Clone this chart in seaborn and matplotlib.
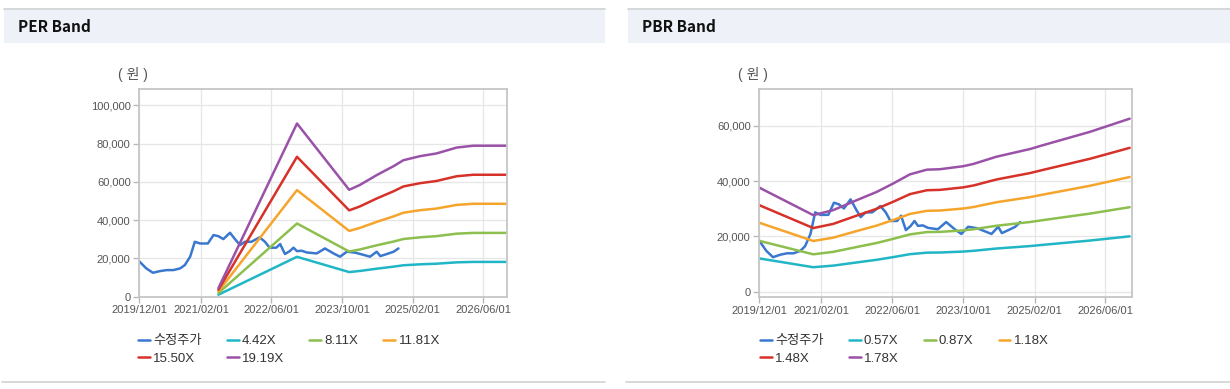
import pandas as pd
import numpy as np
import seaborn as sns
import matplotlib.pyplot as plt
import matplotlib.dates as mdates
from matplotlib.patches import Rectangle
from matplotlib.lines import Line2D
from matplotlib.ticker import FuncFormatter

# adjusted share price (수정주가), shared by both charts
price_dates = ['2019-12-01', '2020-01-20', '2020-03-06', '2020-04-25', '2020-06-10', '2020-07-25',
               '2020-09-10', '2020-10-12', '2020-11-18', '2020-12-20', '2021-01-25', '2021-03-20',
               '2021-04-28', '2021-06-01', '2021-07-05', '2021-08-20', '2021-09-25', '2021-10-28',
               '2021-12-01', '2022-01-15', '2022-03-12', '2022-04-18', '2022-05-20', '2022-07-05',
               '2022-08-01', '2022-09-03', '2022-10-06', '2022-11-01', '2022-11-25', '2022-12-28',
               '2023-02-01', '2023-04-10', '2023-06-06', '2023-08-04', '2023-09-18', '2023-11-04',
               '2024-01-01', '2024-02-15', '2024-04-12', '2024-05-28', '2024-06-22', '2024-08-06',
               '2024-09-22', '2024-10-25']
price = [18600, 14800, 12500, 13400, 13900, 13900,
         14800, 16500, 20900, 28700, 27800, 27800,
         32200, 31600, 30100, 33400, 29900, 27000,
         28700, 28700, 31000, 28700, 25600, 25600,
         27500, 22300, 23800, 25600, 23800, 24000,
         23100, 22600, 25200, 22600, 20900, 23500,
         23000, 22100, 20900, 23500, 21200, 22300,
         23500, 25200]

# PER band
per_dates = ['2021-06-01', '2022-11-25', '2023-11-20', '2024-02-01', '2024-05-28', '2024-09-22',
             '2024-11-28', '2025-03-22', '2025-07-15', '2025-12-01', '2026-03-25', '2026-11-15']
per_labels = ['4.42X', '8.11X', '11.81X', '15.50X', '19.19X']
per_442 = [1040, 20840, 12860, 13440, 14630, 15710, 16420, 16910, 17240, 17950, 18170, 18170]
per_811 = [1910, 38240, 23600, 24650, 26840, 28830, 30130, 31020, 31630, 32930, 33330, 33330]
per_1181 = [2780, 55680, 34370, 35900, 39090, 41980, 43870, 45170, 46060, 47950, 48540, 48540]
per_1550 = [3640, 73080, 45100, 47120, 51310, 55100, 57580, 59290, 60450, 62930, 63700, 63700]
per_1919 = [4510, 90480, 55840, 58340, 63520, 68220, 71290, 73400, 74840, 77910, 78870, 78870]

# PBR band
pbr_dates = ['2019-12-01', '2020-12-07', '2021-04-22', '2021-10-01', '2022-02-15', '2022-06-10',
             '2022-10-01', '2023-01-25', '2023-04-25', '2023-10-01', '2023-12-10', '2024-05-15',
             '2025-01-01', '2025-04-01', '2026-02-15', '2026-11-15']
pbr_labels = ['0.57X', '0.87X', '1.18X', '1.48X', '1.78X']
pbr_057 = [12070, 8870, 9450, 10600, 11560, 12550, 13590, 14140, 14190, 14540, 14800, 15630, 16520, 16970, 18510, 20040]
pbr_087 = [18430, 13540, 14420, 16180, 17640, 19160, 20750, 21580, 21650, 22190, 22590, 23860, 25220, 25910, 28250, 30580]
pbr_118 = [24990, 18360, 19550, 21950, 23930, 25980, 28140, 29260, 29370, 30090, 30630, 32360, 34210, 35140, 38310, 41480]
pbr_148 = [31350, 23030, 24520, 27530, 30010, 32590, 35300, 36700, 36840, 37740, 38420, 40580, 42910, 44070, 48060, 52020]
pbr_178 = [37700, 27700, 29500, 33110, 36100, 39200, 42450, 44140, 44300, 45390, 46210, 48810, 51600, 53010, 57800, 62570]

tick_dates = ['2019-12-01', '2021-02-01', '2022-06-01', '2023-10-01', '2025-02-01', '2026-06-01']

price_color = '#3a78d0'
band_colors = ['#20b6c6', '#8dbf4e', '#f6a52c', '#d6322a', '#9a52a8']

sns.set_theme(style='whitegrid')
plt.rcParams['font.family'] = ['Liberation Sans', 'Noto Sans CJK KR']

fig = plt.figure(figsize=(12.3, 3.89), dpi=100)
fig.patch.set_facecolor('white')

W, H = 1230, 389


def px_rect(x0, y0, x1, y1, **kw):
    fig.add_artist(Rectangle((x0 / W, 1 - y1 / H), (x1 - x0) / W, (y1 - y0) / H,
                             transform=fig.transFigure, **kw))


def px_hline(x0, x1, y, color):
    fig.add_artist(Line2D([x0 / W, x1 / W], [1 - y / H, 1 - y / H],
                          transform=fig.transFigure, color=color, lw=1.2))


# panel headers and bottom rules
for (x0, x1, title) in [(4, 605, 'PER Band'), (628, 1230, 'PBR Band')]:
    px_rect(x0, 8.5, x1, 43, facecolor='#eef2f8', edgecolor='none')
    px_hline(x0, x1, 8.5, '#d2d2d2')
    px_hline(x0 - 2, x1, 382, '#d2d2d2')
    fig.text((x0 + 14) / W, 1 - 27 / H, title, fontsize=11, fontweight='bold',
             family=['Noto Sans CJK KR'], va='center', ha='left', color='#111111')


def style_axes(ax, ylim, yticks, xend):
    ax.set_facecolor('white')
    ax.set_xlim(pd.Timestamp('2019-12-01'), pd.Timestamp(xend))
    ax.set_ylim(*ylim)
    ax.set_yticks(yticks)
    ax.set_xticks(pd.to_datetime(tick_dates))
    ax.xaxis.set_major_formatter(mdates.DateFormatter('%Y/%m/%d'))
    ax.yaxis.set_major_formatter(FuncFormatter(lambda v, p: f'{v:,.0f}'))
    ax.grid(True, color='#e6e6e6', lw=0.9)
    for s in ax.spines.values():
        s.set_color('#c6c6c6')
        s.set_linewidth(1.3)
        s.set_visible(True)
    ax.tick_params(axis='both', which='major', labelsize=8, colors='#555555',
                   length=4, width=1, color='#b8b8b8', pad=2,
                   bottom=True, left=True)
    ax.set_xlabel('')
    ax.set_ylabel('')


def draw_legend(ax, handles, labels, x, y):
    # row-major order in the picture -> column-major order for matplotlib
    order = [0, 4, 1, 5, 2, 3]
    leg = ax.legend([handles[i] for i in order], [labels[i] for i in order],
                    ncol=4, loc='upper left', bbox_to_anchor=(x / W, 1 - y / H),
                    bbox_transform=fig.transFigure, frameon=False, fontsize=9.5,
                    handlelength=0.9, handletextpad=0.25, columnspacing=1.9,
                    labelspacing=0.42, borderpad=0, borderaxespad=0)
    for t in leg.get_texts():
        t.set_color('#333333')


# ---- PER chart
ax1 = fig.add_axes([139 / W, 1 - 296.7 / H, 368 / W, 207.7 / H])
per_x = pd.to_datetime(per_dates)
sns.lineplot(x=pd.to_datetime(price_dates), y=price, ax=ax1, color=price_color, lw=1.8, label='수정주가')
for vals, lab, c in zip([per_442, per_811, per_1181, per_1550, per_1919], per_labels, band_colors):
    sns.lineplot(x=per_x, y=vals, ax=ax1, color=c, lw=1.8, label=lab)
style_axes(ax1, (0, 108500), np.arange(0, 100001, 20000), '2026-11-13')
h, l = ax1.get_legend_handles_labels()
draw_legend(ax1, h, l, 138, 335)
fig.text(133 / W, 1 - 75 / H, '( 원 )', fontsize=10, color='#555555', ha='center', va='center')

# ---- PBR chart
ax2 = fig.add_axes([759 / W, 1 - 297.3 / H, 373 / W, 208.3 / H])
pbr_x = pd.to_datetime(pbr_dates)
sns.lineplot(x=pd.to_datetime(price_dates), y=price, ax=ax2, color=price_color, lw=1.8, label='수정주가')
for vals, lab, c in zip([pbr_057, pbr_087, pbr_118, pbr_148, pbr_178], pbr_labels, band_colors):
    sns.lineplot(x=pbr_x, y=vals, ax=ax2, color=c, lw=1.8, label=lab)
style_axes(ax2, (-2000, 73300), np.arange(0, 60001, 20000), '2026-12-01')
h, l = ax2.get_legend_handles_labels()
draw_legend(ax2, h, l, 760, 335)
fig.text(753 / W, 1 - 75 / H, '( 원 )', fontsize=10, color='#555555', ha='center', va='center')

fig.savefig('out.png', dpi=100, facecolor='white')
